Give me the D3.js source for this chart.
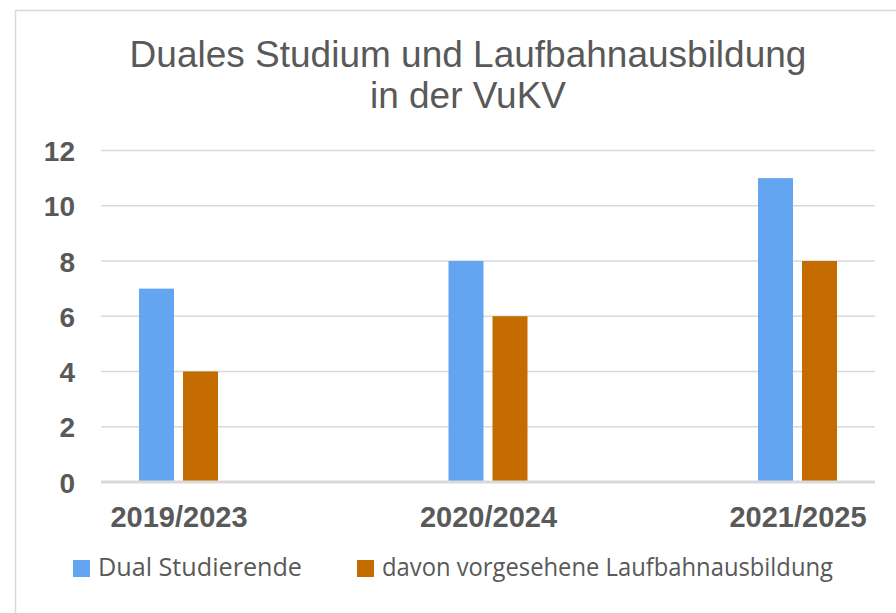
<!DOCTYPE html>
<html><head><meta charset="utf-8">
<script src="https://cdn.jsdelivr.net/npm/d3@7"></script>
<style>html,body{margin:0;padding:0;background:#fff;overflow:hidden}</style>
</head><body>
<script>
const categories = ["2019/2023", "2020/2024", "2021/2025"];
const seriesNames = ["Dual Studierende", "davon vorgesehene Laufbahnausbildung"];
const dualStudierende = [7, 8, 11];
const laufbahn = [4, 6, 8];
const yTicks = [0, 2, 4, 6, 8, 10, 12];
const titleLines = ["Duales Studium und Laufbahnausbildung", "in der VuKV"];
const colors = ["#64A5F2", "#C46C00"];

const W = 896, H = 613;
const svg = d3.select("body").append("svg").attr("width", W).attr("height", H);

svg.append("rect").attr("x", 15.5).attr("y", 10.5).attr("width", W + 20).attr("height", H + 20)
  .attr("fill", "#fff").attr("stroke", "#d9d9d9").attr("stroke-width", 1.5);

const gridX0 = 101, gridX1 = 875;
const y = d3.scaleLinear().domain([0, 12]).range([482, 150.5]);
const x = d3.scalePoint().domain(categories).range([178.5, 797.5]);
const barW = 35, gap = 9;

// title
svg.append("g").selectAll("text").data(titleLines).join("text")
  .attr("x", 468).attr("y", (d, i) => 67 + i * 41)
  .attr("text-anchor", "middle")
  .attr("font-family", "Liberation Sans, Arial, sans-serif")
  .attr("font-size", 37).attr("fill", "#595959").text(d => d);

// gridlines
svg.append("g").selectAll("line").data(yTicks.filter(d => d > 0)).join("line")
  .attr("x1", gridX0).attr("x2", gridX1)
  .attr("y1", d => y(d)).attr("y2", d => y(d))
  .attr("stroke", "#d9d9d9").attr("stroke-width", 1.5);

// y axis labels
const yAxis = d3.axisLeft(y).tickValues(yTicks).tickSize(0).tickPadding(0);
const ya = svg.append("g").attr("transform", "translate(75,0)").call(yAxis);
ya.select(".domain").remove();
ya.selectAll("text").attr("font-family", "Liberation Sans, Arial, sans-serif")
  .attr("font-size", 28).attr("font-weight", "bold").attr("fill", "#595959")
  .attr("dy", "0.36em");

// bars
const series = [dualStudierende, laufbahn];
series.forEach((vals, si) => {
  svg.append("g").selectAll("rect").data(vals).join("rect")
    .attr("x", (d, i) => si === 0 ? x(categories[i]) - gap / 2 - barW : x(categories[i]) + gap / 2)
    .attr("y", d => y(d)).attr("width", barW).attr("height", d => y(0) - y(d))
    .attr("fill", colors[si]);
});

// x axis line
svg.append("line").attr("x1", gridX0).attr("x2", gridX1).attr("y1", y(0)).attr("y2", y(0))
  .attr("stroke", "#d9d9d9").attr("stroke-width", 3);

// x labels
const xAxis = d3.axisBottom(x).tickSize(0).tickPadding(0);
const xa = svg.append("g").attr("transform", "translate(0,527)").call(xAxis);
xa.select(".domain").remove();
xa.selectAll("text").attr("font-family", "Liberation Sans, Arial, sans-serif")
  .attr("font-size", 29).attr("font-weight", "bold").attr("fill", "#595959").attr("dy", 0);

// legend
const legX = [73, 357];
const legLen = [204, 451];
const leg = svg.append("g").selectAll("g").data(seriesNames).join("g")
  .attr("transform", (d, i) => `translate(${legX[i]},560)`);
leg.append("rect").attr("width", 17).attr("height", 17).attr("fill", (d, i) => colors[i]);
leg.append("text").attr("x", 25).attr("y", 16)
  .attr("font-family", "Open Sans, sans-serif").attr("font-size", 25).attr("fill", "#595959")
  .attr("textLength", (d, i) => legLen[i]).attr("lengthAdjust", "spacingAndGlyphs")
  .text(d => d);
</script>
</body></html>
